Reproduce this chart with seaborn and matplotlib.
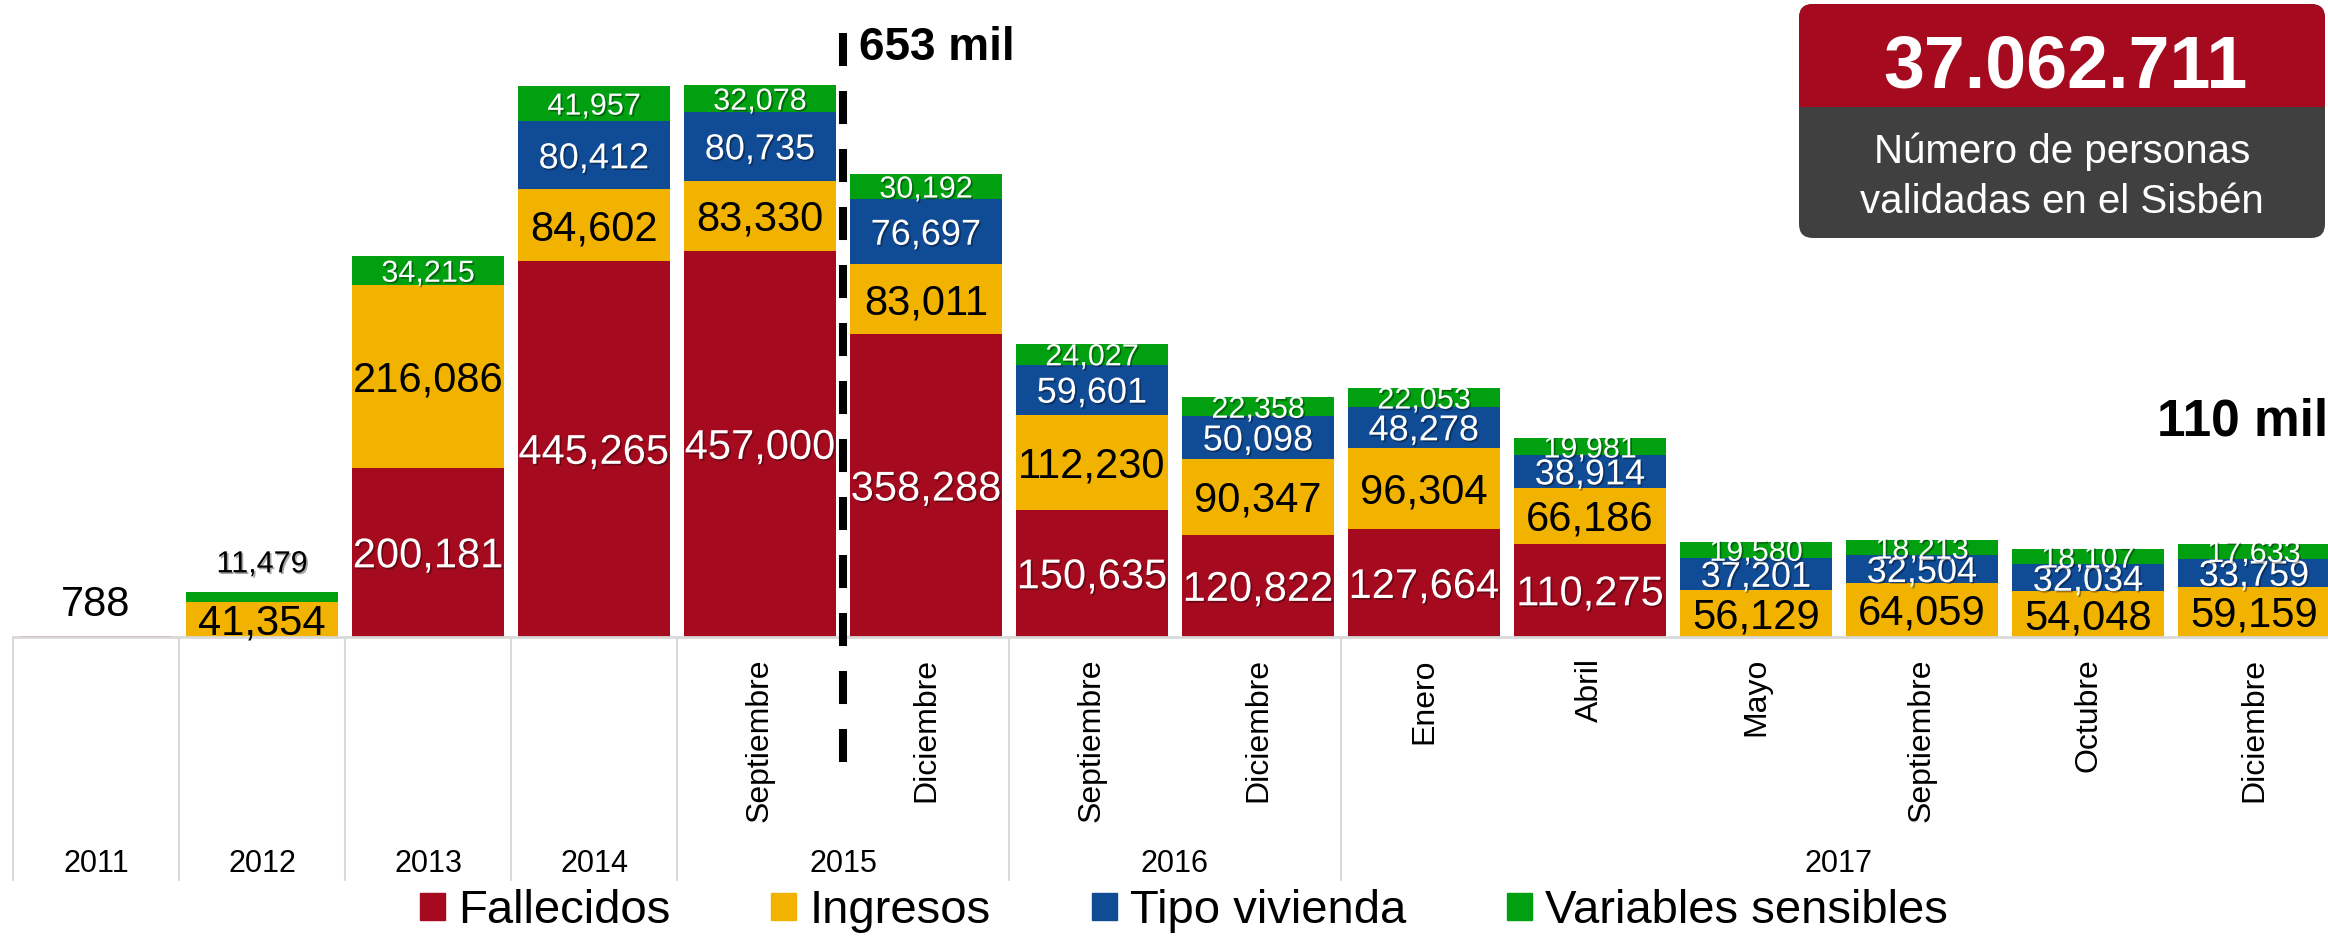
import numpy as np
import pandas as pd
import matplotlib.pyplot as plt
import matplotlib.patches as mpatches
import matplotlib.patheffects as pe
from matplotlib import transforms
import seaborn as sns

sns.set_style("white")
plt.rcParams['font.family'] = ['Liberation Sans', 'DejaVu Sans']
plt.rcParams['text.color'] = 'black'

# -----------------------------
# Data
# -----------------------------
periodos = ["2011", "2012", "2013", "2014", "2015-Sep", "2015-Dic", "2016-Sep", "2016-Dic",
            "2017-Ene", "2017-Abr", "2017-May", "2017-Sep", "2017-Oct", "2017-Dic"]
meses = ["", "", "", "", "Septiembre", "Diciembre", "Septiembre", "Diciembre",
         "Enero", "Abril", "Mayo", "Septiembre", "Octubre", "Diciembre"]
anios = ["2011", "2012", "2013", "2014", "2015", "2016", "2017"]
grupo_anio = [0, 1, 2, 3, 4, 4, 5, 5, 6, 6, 6, 6, 6, 6]

fallecidos = [788, 0, 200181, 445265, 457000, 358288, 150635, 120822, 127664, 110275, 0, 0, 0, 0]
ingresos = [0, 41354, 216086, 84602, 83330, 83011, 112230, 90347, 96304, 66186, 56129, 64059, 54048, 59159]
tipo_vivienda = [0, 0, 0, 80412, 80735, 76697, 59601, 50098, 48278, 38914, 37201, 32504, 32034, 33759]
variables_sensibles = [0, 11479, 34215, 41957, 32078, 30192, 24027, 22358, 22053, 19981, 19580, 18213, 18107, 17633]

series = ["Fallecidos", "Ingresos", "Tipo vivienda", "Variables sensibles"]
colores = ["#A50A1F", "#F1B300", "#104B96", "#00A010"]
total_validadas = "37.062.711"
texto_caja = "Número de personas\nvalidadas en el Sisbén"

df = pd.DataFrame({"Periodo": periodos, "Fallecidos": fallecidos, "Ingresos": ingresos,
                   "Tipo vivienda": tipo_vivienda, "Variables sensibles": variables_sensibles})
cum = df[series].cumsum(axis=1)
df["Total"] = cum[series[-1]]

W, H = 2328, 936
BASE = 637  # baseline in pixels from top

fig = plt.figure(figsize=(W / 100, H / 100), dpi=100)
ax = fig.add_axes([13 / W, 1 - BASE / H, 166 * 14 / W, BASE / H])

# stacked bars: draw cumulative totals from the top layer down
for s, c in zip(series[::-1], colores[::-1]):
    sns.barplot(x=df["Periodo"], y=cum[s], color=c, width=0.91, saturation=1,
                linewidth=0, errorbar=None, ax=ax)

ax.set_xlim(-0.5, len(periodos) - 0.5)
ax.set_ylim(0, 754000)
ax.set_xticks([])
ax.set_yticks([])
ax.set_xlabel("")
ax.set_ylabel("")
for side in ["left", "right", "top"]:
    ax.spines[side].set_visible(False)
ax.spines["bottom"].set_color("#D9D9D9")
ax.spines["bottom"].set_linewidth(2)

# -----------------------------
# Data labels
# -----------------------------
tamanos = [30, 30, 26, 22]
sombra = [pe.SimplePatchShadow(offset=(1.2, -1.2), shadow_rgbFace="black", alpha=0.35), pe.Normal()]
for k, s in enumerate(series):
    fs = tamanos[k]
    txt_color = "black" if s == "Ingresos" else "white"
    for i, v in enumerate(df[s]):
        if v <= 0:
            continue
        if v < 12000:
            ax.annotate(f"{v:,}", xy=(i, df["Total"][i]), xytext=(0, 14.4),
                        textcoords="offset points", ha="center", va="baseline",
                        fontsize=fs, color="black",
                        path_effects=sombra if s == "Variables sensibles" else None)
            continue
        centro = cum[s][i] - v / 2
        ax.annotate(f"{v:,}", xy=(i, centro), xytext=(0, -0.358 * fs),
                    textcoords="offset points", ha="center", va="baseline",
                    fontsize=fs, color=txt_color,
                    path_effects=sombra if txt_color == "white" else None)

# -----------------------------
# Overlay in pixel coordinates
# -----------------------------
ov = fig.add_axes([0, 0, 1, 1], zorder=5)
ov.set_xlim(0, W)
ov.set_ylim(H, 0)
ov.axis("off")
ov.patch.set_alpha(0)
mix = transforms.blended_transform_factory(ax.transData, ov.transData)

# month and year labels, group separators
for i, m in enumerate(meses):
    if m:
        ov.text(i, 658, m, transform=mix, rotation=90, ha="center", va="top", fontsize=23)
grupos = np.array(grupo_anio)
for g, a in enumerate(anios):
    idx = np.where(grupos == g)[0]
    ov.text(idx.mean(), 872, a, transform=mix, ha="center", va="baseline", fontsize=22)
    ov.plot([idx[0] - 0.5] * 2, [BASE, 880], transform=mix, color="#D9D9D9", lw=1.5)

# dashed marker at the peak
i_max = int(df["Total"].idxmax())
ov.plot([i_max + 0.5] * 2, [33, 765], transform=mix, color="black", lw=5.8, dashes=(4.1, 3.1))
ov.text(859, 60, f"{df['Total'].max() // 1000} mil", ha="left", va="baseline",
        fontsize=33, fontweight="bold")
ov.text(2157, 435, f"{df['Total'].iloc[-1] // 1000} mil", ha="left", va="baseline",
        fontsize=37, fontweight="bold")

# summary box
ov.add_patch(mpatches.FancyBboxPatch((1799, 4), 526, 234, boxstyle="round,pad=0,rounding_size=14",
                                     fc="#404040", ec="none"))
ov.add_patch(mpatches.FancyBboxPatch((1799, 4), 526, 130, boxstyle="round,pad=0,rounding_size=14",
                                     fc=colores[0], ec="none"))
ov.add_patch(mpatches.Rectangle((1799, 107), 526, 40, fc="#404040", ec="none"))
ov.text(2065, 87, total_validadas, ha="center", va="baseline", fontsize=53,
        fontweight="bold", color="white")
for j, linea in enumerate(texto_caja.split("\n")):
    ov.text(2062, 163 + 50 * j, linea, ha="center", va="baseline", fontsize=29, color="white")

# legend
handles = [mpatches.Patch(color=c, label=s) for s, c in zip(series, colores)]
fig.legend(handles=handles, loc="center", bbox_to_anchor=(1184 / W, 1 - 911 / H), ncol=4,
           frameon=False, fontsize=34, handlelength=0.53, handleheight=0.51,
           handletextpad=0.28, columnspacing=2.13, labelcolor="black")

plt.savefig("out.png", dpi=100)
